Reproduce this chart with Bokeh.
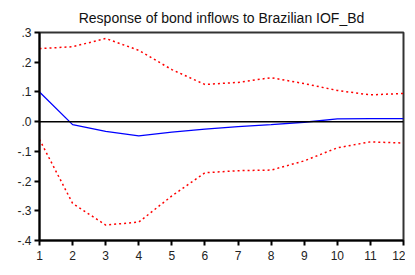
from bokeh.plotting import figure
from bokeh.models import Range1d, FixedTicker, Span
from bokeh.embed import file_html
from bokeh.resources import INLINE

periods = [1, 2, 3, 4, 5, 6, 7, 8, 9, 10, 11, 12]
response = [0.100, -0.010, -0.033, -0.048, -0.035, -0.025, -0.017, -0.010, -0.002, 0.009, 0.010, 0.010]
upper = [0.246, 0.252, 0.280, 0.240, 0.175, 0.125, 0.132, 0.148, 0.128, 0.105, 0.090, 0.095]
lower = [-0.060, -0.275, -0.348, -0.338, -0.250, -0.172, -0.165, -0.163, -0.132, -0.088, -0.068, -0.072]
y_ticks = [-0.4, -0.3, -0.2, -0.1, 0.0, 0.1, 0.2, 0.3]
y_labels = ["-.4", "-.3", "-.2", "-.1", ".0", ".1", ".2", ".3"]
title = "Response of bond inflows to Brazilian IOF_Bd"

p = figure(width=405, height=266, output_backend="svg", toolbar_location=None,
           x_range=Range1d(1, 12), y_range=Range1d(-0.4, 0.3),
           min_border_left=39, min_border_right=2, min_border_top=4, min_border_bottom=26,
           title=title)
p.title.text_font = "Liberation Sans"
p.title.text_font_size = "14px"
p.title.text_font_style = "normal"
p.title.align = "center"
p.title.text_color = "#111111"
p.title.standoff = 14

p.grid.visible = False
p.outline_line_color = "black"
p.outline_line_width = 2
p.outline_line_alpha = 0.8

for ax in (p.xaxis[0], p.yaxis[0]):
    ax.axis_line_color = "black"
    ax.axis_line_width = 2
    ax.major_tick_line_width = 2
    ax.major_tick_out = 5
    ax.major_tick_in = 0
    ax.minor_tick_line_color = None
    ax.major_label_text_font = "Liberation Sans"
    ax.major_label_text_font_size = "12px"
    ax.major_label_text_color = "#222222"

p.xaxis.major_label_standoff = 5
p.yaxis.major_label_standoff = 3

p.xaxis.ticker = FixedTicker(ticks=periods)
p.yaxis.ticker = FixedTicker(ticks=y_ticks)
p.yaxis.major_label_overrides = {t: l for t, l in zip(y_ticks, y_labels)}

p.add_layout(Span(location=0, dimension="width", line_color="black", line_width=1.5))

p.line(periods, upper, line_color="red", line_width=1.5, line_dash="2 3")
p.line(periods, lower, line_color="red", line_width=1.5, line_dash="2 3")
p.line(periods, response, line_color="blue", line_width=1.3)

open("out.html", "w").write(file_html(p, INLINE))
